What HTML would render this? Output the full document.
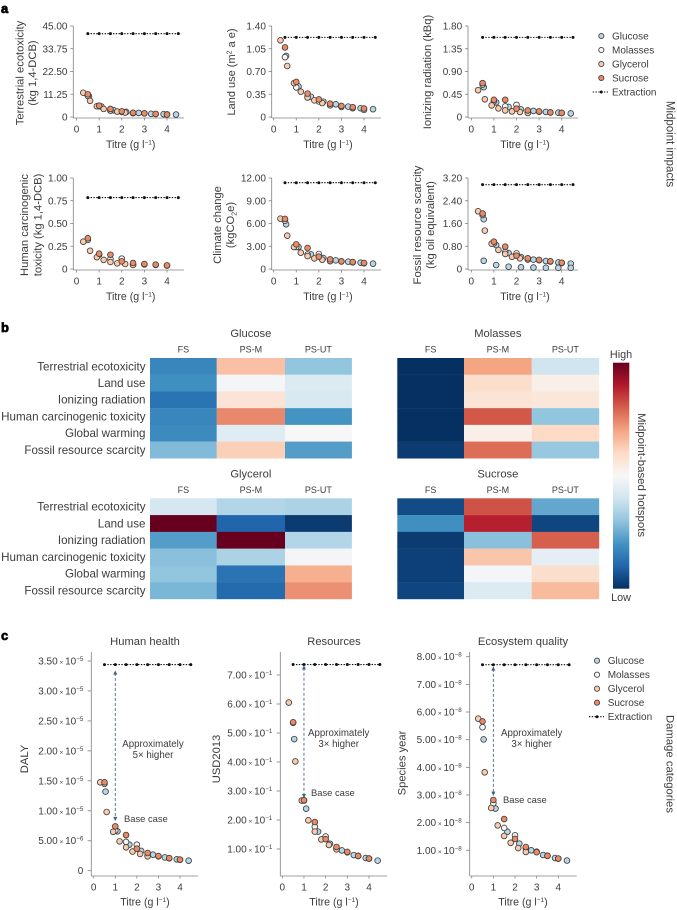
<!DOCTYPE html>
<html lang="en">
<head>
<meta charset="utf-8">
<title>Midpoint impacts, hotspots and damage categories</title>
<style>
html,body{margin:0;padding:0;background:#fff;width:677px;height:910px;overflow:hidden}
svg{display:block}
text{font-family:"Liberation Sans",sans-serif;fill:#3c3c3c}
</style>
</head>
<body>
<svg id="fig" xmlns="http://www.w3.org/2000/svg" width="677" height="910" viewBox="0 0 677 910">
  <text x="1" y="13" font-size="13" font-weight="700" style="fill:#000;stroke:#000;stroke-width:.7">a</text>
  <text x="1" y="332" font-size="13" font-weight="700" style="fill:#000;stroke:#000;stroke-width:.7">b</text>
  <text x="1" y="640" font-size="13" font-weight="700" style="fill:#000;stroke:#000;stroke-width:.7">c</text>

  <text font-size="11.2" text-anchor="middle" transform="translate(23.5 73) rotate(-90)">Terrestrial ecotoxicity</text>
  <text font-size="11.2" text-anchor="middle" transform="translate(36 73) rotate(-90)">(kg 1,4-DCB)</text>
  <text font-size="11" text-anchor="middle" transform="translate(235 72) rotate(-90)">Land use (m<tspan dy="-3.5" font-size="7">2</tspan><tspan dy="3.5"> a e)</tspan></text>
  <text font-size="11.2" text-anchor="middle" transform="translate(431 72) rotate(-90)">Ionizing radiation (kBq)</text>
  <text font-size="11.2" text-anchor="middle" transform="translate(28 225) rotate(-90)">Human carcinogenic</text>
  <text font-size="11.2" text-anchor="middle" transform="translate(41.5 225) rotate(-90)">toxicity (kg 1,4-DCB)</text>
  <text font-size="11.2" text-anchor="middle" transform="translate(221 225) rotate(-90)">Climate change</text>
  <text font-size="11.2" text-anchor="middle" transform="translate(234 225) rotate(-90)">(kgCO<tspan dy="2.5" font-size="7">2</tspan><tspan dy="-2.5">e)</tspan></text>
  <text font-size="11.4" text-anchor="middle" transform="translate(421 225) rotate(-90)">Fossil resource scarcity</text>
  <text font-size="11.2" text-anchor="middle" transform="translate(434 225) rotate(-90)">(kg oil equivalent)</text>
  <text font-size="11.5" text-anchor="middle" transform="translate(666.5 144) rotate(90)">Midpoint impacts</text>
  <text font-size="11.4" text-anchor="middle" transform="translate(638 475) rotate(90)">Midpoint-based hotspots</text>
  <text font-size="11.3" text-anchor="middle" transform="translate(666.5 764) rotate(90)">Damage categories</text>
  <text font-size="11.2" text-anchor="middle" transform="translate(28 759) rotate(-90)">DALY</text>
  <text font-size="11.2" text-anchor="middle" transform="translate(220 759) rotate(-90)">USD2013</text>
  <text font-size="11.2" text-anchor="middle" transform="translate(405.5 763) rotate(-90)">Species year</text>
  <text font-size="10.8" text-anchor="middle" x="621" y="358">High</text>
  <text font-size="10.8" text-anchor="middle" x="621" y="601">Low</text>

  <text font-size="9.7" text-anchor="middle" x="153" y="747">Approximately</text>
  <text font-size="9.7" text-anchor="middle" x="153" y="758">5× higher</text>
  <text font-size="9.4" x="124" y="822">Base case</text>
  <text font-size="9.7" text-anchor="middle" x="338.7" y="736">Approximately</text>
  <text font-size="9.7" text-anchor="middle" x="338.7" y="747">3× higher</text>
  <text font-size="9.4" x="311" y="796">Base case</text>
  <text font-size="9.7" text-anchor="middle" x="531.7" y="736">Approximately</text>
  <text font-size="9.7" text-anchor="middle" x="531.7" y="747">3× higher</text>
  <text font-size="9.4" x="503" y="803">Base case</text>

  <defs>
    <linearGradient id="rdbu" x1="0" y1="1" x2="0" y2="0">
      <stop offset="0" stop-color="#053061"/><stop offset=".1" stop-color="#2166ac"/><stop offset=".2" stop-color="#4393c3"/>
      <stop offset=".3" stop-color="#92c5de"/><stop offset=".4" stop-color="#d1e5f0"/><stop offset=".5" stop-color="#f7f7f7"/>
      <stop offset=".6" stop-color="#fddbc7"/><stop offset=".7" stop-color="#f4a582"/><stop offset=".8" stop-color="#d6604d"/>
      <stop offset=".9" stop-color="#b2182b"/><stop offset="1" stop-color="#67001f"/>
    </linearGradient>
  </defs>
  <rect x="613" y="362.7" width="16.3" height="226" fill="url(#rdbu)"/>
</svg>

<script>
// Shared x values (titre, g/l)
const glucoseX = [0.55, 1.1, 1.65, 2.2, 2.75, 3.3, 3.85, 4.4];
const molassesX = [0.5, 1, 1.5, 2, 2.5, 3, 3.5, 4];
const glycerolX = [0.3, 0.6, 0.9, 1.2, 1.5, 1.8, 2.15, 2.5];
const sucroseX = [0.5, 1, 1.5, 2, 2.5, 3, 3.5, 4];
const extractionX = [0.5, 1, 1.5, 2, 2.5, 3, 3.5, 4, 4.5];
const xTicks = [0, 1, 2, 3, 4];

// Terrestrial ecotoxicity
const tecoGlucose = [10.2, 5.2, 3.3, 2.5, 2, 1.6, 1.4, 1.2];
const tecoMolasses = [10.5, 5.3, 3.2, 2.5, 2, 1.8, 1.5, 1.3];
const tecoGlycerol = [12, 8, 5.3, 4, 3.2, 2.7, 2.2, 1.9];
const tecoSucrose = [11.2, 5.6, 4, 2.8, 2.1, 1.8, 1.5, 1.2];
const tecoExtraction = 41.2;
const tecoTicks = [0, 11.25, 22.5, 33.75, 45];
const tecoTickLabels = ['0', '11.25', '22.50', '33.75', '45.00'];

// Land use
const landGlucose = [0.94, 0.47, 0.31, 0.235, 0.195, 0.16, 0.135, 0.12];
const landMolasses = [0.92, 0.455, 0.31, 0.24, 0.185, 0.155, 0.135, 0.11];
const landGlycerol = [1.18, 0.785, 0.52, 0.39, 0.3, 0.256, 0.215, 0.18];
const landSucrose = [1.07, 0.54, 0.36, 0.27, 0.205, 0.17, 0.15, 0.13];
const landExtraction = 1.225;
const landTicks = [0, 0.35, 0.7, 1.05, 1.4];
const landTickLabels = ['0', '0.35', '0.70', '1.05', '1.40'];

// Ionizing radiation
const ionGlucose = [0.59, 0.29, 0.2, 0.15, 0.12, 0.1, 0.085, 0.07];
const ionMolasses = [0.64, 0.31, 0.21, 0.24, 0.1, 0.105, 0.09, 0.08];
const ionGlycerol = [0.53, 0.35, 0.23, 0.17, 0.13, 0.11, 0.1, 0.08];
const ionSucrose = [0.67, 0.34, 0.34, 0.165, 0.13, 0.11, 0.09, 0.08];
const ionExtraction = 1.575;
const ionTicks = [0, 0.45, 0.9, 1.35, 1.8];
const ionTickLabels = ['0', '0.45', '0.90', '1.35', '1.80'];

// Human carcinogenic toxicity
const humanCarcGlucose = [];
const humanCarcMolasses = [0.32, 0.157, 0.11, 0.114, 0.048, 0.05, 0.045, 0.038];
const humanCarcGlycerol = [0.3, 0.2, 0.13, 0.1, 0.077, 0.062, 0.055, 0.044];
const humanCarcSucrose = [0.337, 0.168, 0.157, 0.084, 0.066, 0.055, 0.048, 0.04];
const humanCarcExtraction = 0.785;
const humanCarcTicks = [0, 0.25, 0.5, 0.75, 1];
const humanCarcTickLabels = ['0', '0.25', '0.50', '0.75', '1.00'];

// Climate change
const climateGlucose = [5.9, 2.9, 1.93, 1.45, 1.14, 0.97, 0.84, 0.7];
const climateMolasses = [6.37, 2.9, 1.9, 1.98, 1.05, 1, 0.88, 0.75];
const climateGlycerol = [6.64, 4.4, 2.9, 2.15, 1.7, 1.4, 1.23, 1.05];
const climateSucrose = [6.6, 3.25, 2.77, 1.63, 1.27, 1, 0.92, 0.79];
const climateExtraction = 11.38;
const climateTicks = [0, 3, 6, 9, 12];
const climateTickLabels = ['0', '3.00', '6.00', '9.00', '12.00'];

// Fossil resource scarcity
const fossilGlucose = [1.75, 0.84, 0.56, 0.42, 0.33, 0.28, 0.23, 0.19];
const fossilGlucoseLower = [0.29, 0.14, 0.08, 0.06, 0.05, 0.04, 0.04, 0.04];
const fossilMolasses = [1.9, 0.9, 0.6, 0.55, 0.36, 0.31, 0.26, 0.21];
const fossilGlycerol = [2.03, 1.35, 0.89, 0.67, 0.53, 0.43, 0.375, 0.33];
const fossilSucrose = [1.95, 0.96, 0.785, 0.47, 0.375, 0.32, 0.27, 0.22];
const fossilExtraction = 2.966;
const fossilTicks = [0, 0.8, 1.6, 2.4, 3.2];
const fossilTickLabels = ['0', '0.80', '1.60', '2.40', '3.20'];

// Human health (units of 1e-5 DALY)
const healthGlucose = [1.32, 0.657, 0.434, 0.33, 0.267, 0.222, 0.19, 0.167];
const healthMolasses = [1.45, 0.67, 0.48, 0.434, 0.256, 0.24, 0.206, 0.184];
const healthGlycerol = [1.475, 0.98, 0.65, 0.49, 0.39, 0.32, 0.28, 0.24];
const healthSucrose = [1.475, 0.74, 0.595, 0.367, 0.295, 0.245, 0.21, 0.184];
const healthExtraction = 3.44;
const healthTicks = [0, 0.5, 1, 1.5, 2, 2.5, 3, 3.5];
const healthTickMantissas = ['0', '5.00', '1.00', '1.50', '2.00', '2.50', '3.00', '3.50'];
const healthTickExponents = ['', '−6', '−5', '−5', '−5', '−5', '−5', '−5'];
const healthArrow = [0.87, 3.3];

// Resources (units of 1e-1 USD2013)
const resourceGlucose = [4.79, 2.39, 1.6, 1.18, 0.95, 0.79, 0.69, 0.6];
const resourceMolasses = [5.35, 2.67, 1.77, 1.43, 1.02, 0.885, 0.76, 0.67];
const resourceGlycerol = [6.05, 4.02, 2.67, 1.99, 1.6, 1.33, 1.14, 0.99];
const resourceSucrose = [5.37, 2.68, 1.93, 1.34, 1.07, 0.9, 0.76, 0.67];
const resourceExtraction = 7.36;
const resourceTicks = [1, 2, 3, 4, 5, 6, 7];
const resourceTickMantissas = ['1.00', '2.00', '3.00', '4.00', '5.00', '6.00', '7.00'];
const resourceTickExponents = ['−1', '−1', '−1', '−1', '−1', '−1', '−1'];
const resourceArrow = [2.84, 7.25];

// Ecosystem quality (units of 1e-8 species year)
const ecoGlucose = [5.01, 2.51, 1.67, 1.24, 1, 0.83, 0.72, 0.63];
const ecoMolasses = [5.45, 2.7, 1.81, 1.54, 1.08, 0.95, 0.8, 0.7];
const ecoGlycerol = [5.76, 3.82, 2.53, 1.9, 1.52, 1.27, 1.08, 0.94];
const ecoSucrose = [5.66, 2.82, 2.13, 1.41, 1.12, 0.93, 0.8, 0.7];
const ecoExtraction = 7.71;
const ecoTicks = [1, 2, 3, 4, 5, 6, 7, 8];
const ecoTickMantissas = ['1.00', '2.00', '3.00', '4.00', '5.00', '6.00', '7.00', '8.00'];
const ecoTickExponents = ['−8', '−8', '−8', '−8', '−8', '−8', '−8', '−8'];
const ecoArrow = [3.06, 7.56];

// Heatmaps (0 = low, 1 = high)
const heatRows = ['Terrestrial ecotoxicity', 'Land use', 'Ionizing radiation', 'Human carcinogenic toxicity', 'Global warming', 'Fossil resource scarcity'];
const heatCols = ['FS', 'PS-M', 'PS-UT'];
const heatGlucose = [[0.17, 0.65, 0.3], [0.19, 0.49, 0.43], [0.13, 0.57, 0.42], [0.17, 0.74, 0.2], [0.18, 0.44, 0.5], [0.28, 0.62, 0.22]];
const heatMolasses = [[0, 0.7, 0.4], [0, 0.59, 0.53], [0, 0.57, 0.56], [0, 0.81, 0.3], [0, 0.53, 0.6], [0.02, 0.78, 0.31]];
const heatGlycerol = [[0.41, 0.35, 0.34], [1, 0.1, 0.02], [0.22, 1, 0.35], [0.29, 0.34, 0.49], [0.3, 0.13, 0.68], [0.27, 0.11, 0.73]];
const heatSucrose = [[0.05, 0.82, 0.24], [0.19, 0.89, 0.04], [0.02, 0.29, 0.8], [0.03, 0.64, 0.45], [0.03, 0.49, 0.59], [0.04, 0.43, 0.66]];
const rdbuStops = ['#053061', '#2166ac', '#4393c3', '#92c5de', '#d1e5f0', '#f7f7f7', '#fddbc7', '#f4a582', '#d6604d', '#b2182b', '#67001f'];

const legendLabels = ['Glucose', 'Molasses', 'Glycerol', 'Sucrose'];

const NS = 'http://www.w3.org/2000/svg';
const svg = document.getElementById('fig');
const FILL = {glucose: '#b7d7e8', molasses: '#f6f6f4', glycerol: '#fbcbac', sucrose: '#ee8a62'};
const EDGE = '#404040';

function mk(parent, tag, name, attrs, txt) {
  const el = document.createElementNS(NS, tag);
  
  
  for (const k in attrs) el.setAttribute(k, attrs[k]);
  if (txt !== undefined) el.textContent = txt;
  parent.appendChild(el);
  return el;
}
function span(parent, txt, attrs) {
  const t = document.createElementNS(NS, 'tspan');
  for (const k in attrs) t.setAttribute(k, attrs[k]);
  t.textContent = txt;
  parent.appendChild(t);
}
function scale(v0, p0, v1, p1) {
  return v => p0 + (v - v0) * (p1 - p0) / (v1 - v0);
}
function drawSeries(g, kind, xs, ys, sx, sy) {
  ys.forEach((v, i) => {
    mk(g, 'circle', 'point-' + kind, {cx: sx(xs[i]), cy: sy(v), r: 2.85, fill: FILL[kind], stroke: EDGE, 'stroke-width': 0.85});
  });
}
function drawExtraction(g, value, sx, sy) {
  const y = sy(value);
  mk(g, 'line', 'extraction-line', {x1: sx(extractionX[0]), x2: sx(extractionX[extractionX.length - 1]), y1: y, y2: y, stroke: '#111', 'stroke-width': 1.1, 'stroke-dasharray': '1.4 1.4'});
  extractionX.forEach(x => {
    mk(g, 'circle', 'extraction-point', {cx: sx(x), cy: y, r: 1.5, fill: '#111'});
  });
}
function xAxisTitle(g, cx, y) {
  const t = mk(g, 'text', 'x-axis-title', {x: cx, y: y, 'font-size': 10.6, 'text-anchor': 'middle'});
  span(t, 'Titre (g l', {});
  span(t, '−1', {dy: -3.5, 'font-size': 6.5});
  span(t, ')', {dy: 3.5});
}
function drawAxes(g, c, sx, sy) {
  mk(g, 'line', 'y-axis', {x1: c.axisX, x2: c.axisX, y1: c.top, y2: c.bottom, stroke: '#808080', 'stroke-width': 0.8});
  mk(g, 'line', 'x-axis', {x1: c.axisX, x2: c.xEnd, y1: c.bottom, y2: c.bottom, stroke: '#808080', 'stroke-width': 0.8});
  xTicks.forEach(v => {
    mk(g, 'line', 'x-tick', {x1: sx(v), x2: sx(v), y1: c.bottom, y2: c.bottom + 2.5, stroke: '#808080', 'stroke-width': 0.8});
    mk(g, 'text', 'x-tick-label', {x: sx(v), y: c.bottom + 14.5, 'font-size': 10, 'text-anchor': 'middle'}, String(v));
  });
  c.ticks.forEach((v, i) => {
    const y = sy(v);
    const exp = c.exps ? c.exps[i] : '';
    const gap = c.exps ? 8 : 5.8;
    mk(g, 'line', 'y-tick', {x1: c.axisX - (c.exps ? 3.7 : 3), x2: c.axisX, y1: y, y2: y, stroke: '#808080', 'stroke-width': 0.8});
    const t = mk(g, 'text', 'y-tick-label', {x: c.axisX - gap, y: y + 3.5, 'font-size': 10, 'text-anchor': 'end'});
    if (exp) {
      span(t, c.labels[i], {});
      span(t, ' × ', {'font-size': 6.5});
      span(t, '10', {});
      span(t, exp, {dy: -3.5, 'font-size': 6.2});
    } else {
      t.textContent = c.labels[i];
    }
  });
}
function drawChart(c) {
  const g = mk(svg, 'g', c.name, {});
  const sx = scale(0, c.x0, 4, c.x4);
  const sy = scale(c.v0, c.p0, c.v1, c.p1);
  drawAxes(g, c, sx, sy);
  xAxisTitle(g, c.titleX, c.bottom + (c.titleGap || 30));
  drawExtraction(g, c.extraction, sx, sy);
  if (c.arrow) {
    const x = sx(1), y1 = sy(c.arrow[1]), y2 = sy(c.arrow[0]);
    mk(g, 'line', 'improvement-arrow-shaft', {x1: x, x2: x, y1: y1, y2: y2, stroke: '#4c6a8f', 'stroke-width': 0.9, 'stroke-dasharray': '3 2'});
    mk(g, 'path', 'improvement-arrow-head-top', {d: `M${x} ${y1 - 2.5}l-2 4.2h4z`, fill: '#3f5f88'});
    mk(g, 'path', 'improvement-arrow-head-bottom', {d: `M${x} ${y2 + 2.5}l-2 -4.2h4z`, fill: '#3f5f88'});
  }
  drawSeries(g, 'glucose', glucoseX, c.glucose, sx, sy);
  if (c.glucoseLower) drawSeries(g, 'glucose', glucoseX, c.glucoseLower, sx, sy);
  drawSeries(g, 'molasses', molassesX, c.molasses, sx, sy);
  drawSeries(g, 'glycerol', glycerolX, c.glycerol, sx, sy);
  drawSeries(g, 'sucrose', sucroseX, c.sucrose, sx, sy);
  if (c.title) mk(g, 'text', 'chart-title', {x: c.titleX, y: 645, 'font-size': 11.2, 'text-anchor': 'middle'}, c.title);
}

const rowA = {top: 26, bottom: 118, p0: 117, p1: 26};
const rowB = {top: 178, bottom: 270, p0: 269, p1: 178};
const col1 = {axisX: 73.3, x0: 76.5, x4: 167, xEnd: 184, titleX: 130.7};
const col2 = {axisX: 271.7, x0: 273.7, x4: 364, xEnd: 381, titleX: 328};
const col3 = {axisX: 468, x0: 471.3, x4: 561.7, xEnd: 578, titleX: 525};

[
  Object.assign({name: 'terrestrial-ecotoxicity-chart', v0: 0, v1: 45, ticks: tecoTicks, labels: tecoTickLabels, glucose: tecoGlucose, molasses: tecoMolasses, glycerol: tecoGlycerol, sucrose: tecoSucrose, extraction: tecoExtraction}, rowA, col1),
  Object.assign({name: 'land-use-chart', v0: 0, v1: 1.4, ticks: landTicks, labels: landTickLabels, glucose: landGlucose, molasses: landMolasses, glycerol: landGlycerol, sucrose: landSucrose, extraction: landExtraction}, rowA, col2),
  Object.assign({name: 'ionizing-radiation-chart', v0: 0, v1: 1.8, ticks: ionTicks, labels: ionTickLabels, glucose: ionGlucose, molasses: ionMolasses, glycerol: ionGlycerol, sucrose: ionSucrose, extraction: ionExtraction}, rowA, col3),
  Object.assign({name: 'human-carcinogenic-toxicity-chart', v0: 0, v1: 1, ticks: humanCarcTicks, labels: humanCarcTickLabels, glucose: humanCarcGlucose, molasses: humanCarcMolasses, glycerol: humanCarcGlycerol, sucrose: humanCarcSucrose, extraction: humanCarcExtraction}, rowB, col1),
  Object.assign({name: 'climate-change-chart', v0: 0, v1: 12, ticks: climateTicks, labels: climateTickLabels, glucose: climateGlucose, molasses: climateMolasses, glycerol: climateGlycerol, sucrose: climateSucrose, extraction: climateExtraction}, rowB, col2),
  Object.assign({name: 'fossil-resource-scarcity-chart', v0: 0, v1: 3.2, ticks: fossilTicks, labels: fossilTickLabels, glucose: fossilGlucose, glucoseLower: fossilGlucoseLower, molasses: fossilMolasses, glycerol: fossilGlycerol, sucrose: fossilSucrose, extraction: fossilExtraction}, rowB, col3),
  {name: 'human-health-chart', title: 'Human health', top: 652, bottom: 876, axisX: 91.3, x0: 93.7, x4: 180, xEnd: 198, titleX: 145, titleGap: 29.5, v0: 0, p0: 870.7, v1: 3.5, p1: 661, ticks: healthTicks, labels: healthTickMantissas, exps: healthTickExponents, glucose: healthGlucose, molasses: healthMolasses, glycerol: healthGlycerol, sucrose: healthSucrose, extraction: healthExtraction, arrow: healthArrow},
  {name: 'resources-chart', title: 'Resources', top: 652, bottom: 876, axisX: 280.3, x0: 282.3, x4: 369, xEnd: 387, titleX: 334, titleGap: 29.5, v0: 1, p0: 849, v1: 7, p1: 675, ticks: resourceTicks, labels: resourceTickMantissas, exps: resourceTickExponents, glucose: resourceGlucose, molasses: resourceMolasses, glycerol: resourceGlycerol, sucrose: resourceSucrose, extraction: resourceExtraction, arrow: resourceArrow},
  {name: 'ecosystem-quality-chart', title: 'Ecosystem quality', top: 652, bottom: 876, axisX: 469.7, x0: 471.7, x4: 558.3, xEnd: 576.7, titleX: 523, titleGap: 29.5, v0: 1, p0: 850.3, v1: 8, p1: 656.7, ticks: ecoTicks, labels: ecoTickMantissas, exps: ecoTickExponents, glucose: ecoGlucose, molasses: ecoMolasses, glycerol: ecoGlycerol, sucrose: ecoSucrose, extraction: ecoExtraction, arrow: ecoArrow}
].forEach(drawChart);

// Heatmaps
function hex2(c) { return [1, 3, 5].map(i => parseInt(c.substr(i, 2), 16)); }
function rdbu(v) {
  const t = Math.max(0, Math.min(1, v)) * 10;
  const i = Math.min(9, Math.floor(t));
  const a = hex2(rdbuStops[i]), b = hex2(rdbuStops[i + 1]);
  const m = a.map((x, k) => Math.round(x + (b[k] - x) * (t - i)));
  return `rgb(${m[0]},${m[1]},${m[2]})`;
}
function drawHeatmap(h) {
  const g = mk(svg, 'g', h.name, {});
  const rowH = (h.bottom - h.top) / heatRows.length;
  mk(g, 'text', 'heatmap-title', {x: (h.edges[1] + h.edges[2]) / 2, y: h.top - 21, 'font-size': 11.2, 'text-anchor': 'middle'}, h.title);
  heatCols.forEach((c, j) => {
    mk(g, 'text', 'heatmap-column-label', {x: (h.edges[j] + h.edges[j + 1]) / 2, y: h.top - 5.3, 'font-size': 9, 'text-anchor': 'middle'}, c);
  });
  h.values.forEach((row, i) => {
    row.forEach((v, j) => {
      mk(g, 'rect', 'heatmap-cell', {x: h.edges[j], y: h.top + i * rowH, width: h.edges[j + 1] - h.edges[j] + 0.2, height: rowH + 0.2, fill: rdbu(v)});
    });
    if (h.rowLabels) {
      mk(g, 'text', 'heatmap-row-label', {x: 145.5, y: h.top + (i + 0.5) * rowH + 3.9, 'font-size': 11.6, 'text-anchor': 'end'}, heatRows[i]);
    }
  });
}
drawHeatmap({name: 'glucose-heatmap', title: 'Glucose', values: heatGlucose, top: 358, bottom: 458.3, edges: [150, 216.7, 285, 351.7], rowLabels: true});
drawHeatmap({name: 'molasses-heatmap', title: 'Molasses', values: heatMolasses, top: 358, bottom: 458.3, edges: [397.3, 464, 531.7, 599], rowLabels: false});
drawHeatmap({name: 'glycerol-heatmap', title: 'Glycerol', values: heatGlycerol, top: 498.3, bottom: 599, edges: [150, 216.7, 285, 351.7], rowLabels: true});
drawHeatmap({name: 'sucrose-heatmap', title: 'Sucrose', values: heatSucrose, top: 498.3, bottom: 599, edges: [397.3, 464, 531.7, 599], rowLabels: false});

// Legends
function drawLegend(name, mx, tx, lx1, lx2, y0, dy) {
  const g = mk(svg, 'g', name, {});
  const kinds = ['glucose', 'molasses', 'glycerol', 'sucrose'];
  kinds.forEach((k, i) => {
    const y = y0 + i * dy;
    mk(g, 'circle', 'legend-marker-' + k, {cx: mx, cy: y, r: 2.6, fill: FILL[k], stroke: EDGE, 'stroke-width': 0.85});
    mk(g, 'text', 'legend-label-' + k, {x: tx, y: y + 3.4, 'font-size': 10}, legendLabels[i]);
  });
  const y = y0 + 4 * dy;
  mk(g, 'line', 'legend-line-extraction', {x1: lx1, x2: lx2, y1: y, y2: y, stroke: '#111', 'stroke-width': 1.1, 'stroke-dasharray': '1.4 1.4'});
  mk(g, 'circle', 'legend-marker-extraction', {cx: mx, cy: y, r: 1.5, fill: '#111'});
  mk(g, 'text', 'legend-label-extraction', {x: tx, y: y + 3.4, 'font-size': 10}, 'Extraction');
}
drawLegend('legend-midpoint', 601.3, 612, 592.7, 608, 36, 14);
drawLegend('legend-damage', 597, 607.7, 589, 604, 660.7, 14);
</script>
</body>
</html>
